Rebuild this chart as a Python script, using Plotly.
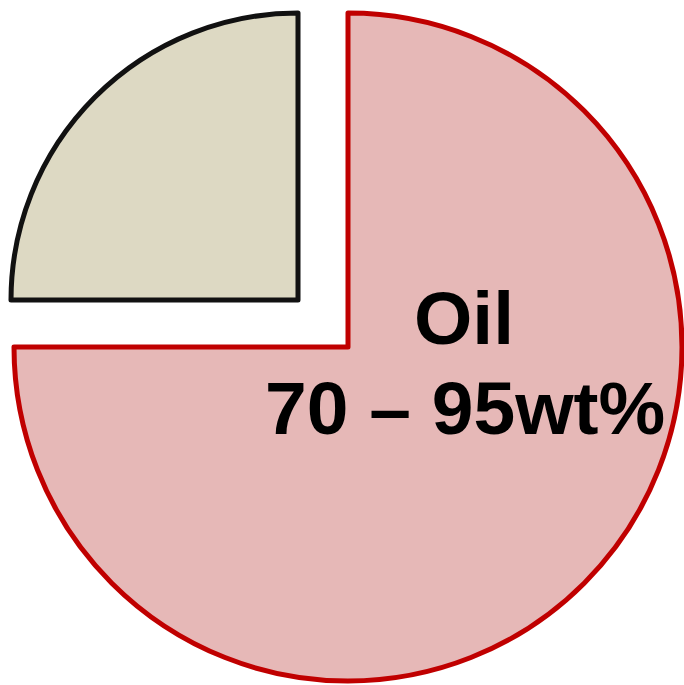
import plotly.graph_objects as go

labels = ["Oil", "Other"]
values = [75, 25]
fill_colors = ["#E6B8B7", "#DDD9C3"]
line_colors = ["#C00000", "#111111"]
oil_label = "Oil"
oil_range = "70 – 95wt%"

W, H = 684, 685

fig = go.Figure()

# Oil slice (large radius), other slice hidden
fig.add_trace(go.Pie(
    labels=labels, values=values, sort=False, direction="clockwise", rotation=0,
    marker=dict(colors=[fill_colors[0], "rgba(0,0,0,0)"],
                line=dict(color=[line_colors[0], "rgba(0,0,0,0)"], width=[5, 0])),
    textinfo="none", hoverinfo="label+value", showlegend=False,
    domain=dict(x=[14 / W, 682 / W], y=[(H - 681) / H, (H - 13) / H]),
))

# Other slice (smaller radius, pulled to upper-left)
fig.add_trace(go.Pie(
    labels=labels, values=values, sort=False, direction="clockwise", rotation=0,
    marker=dict(colors=["rgba(0,0,0,0)", fill_colors[1]],
                line=dict(color=["rgba(0,0,0,0)", line_colors[1]], width=[0, 5])),
    textinfo="none", hoverinfo="label+value", showlegend=False,
    domain=dict(x=[11 / W, 585 / W], y=[(H - 587) / H, (H - 13) / H]),
))

font = dict(family="Liberation Sans, Arial, sans-serif", size=75, color="black")
fig.add_annotation(x=464 / W, y=(H - 318) / H, xref="paper", yref="paper",
                   text="<b>" + oil_label + "</b>", showarrow=False, font=font,
                   xanchor="center", yanchor="middle")
fig.add_annotation(x=465 / W, y=(H - 408) / H, xref="paper", yref="paper",
                   text="<b>" + oil_range + "</b>", showarrow=False, font=font,
                   xanchor="center", yanchor="middle")

fig.update_layout(width=W, height=H, margin=dict(l=0, r=0, t=0, b=0),
                  paper_bgcolor="white", plot_bgcolor="white")

fig.write_html("out.html")
